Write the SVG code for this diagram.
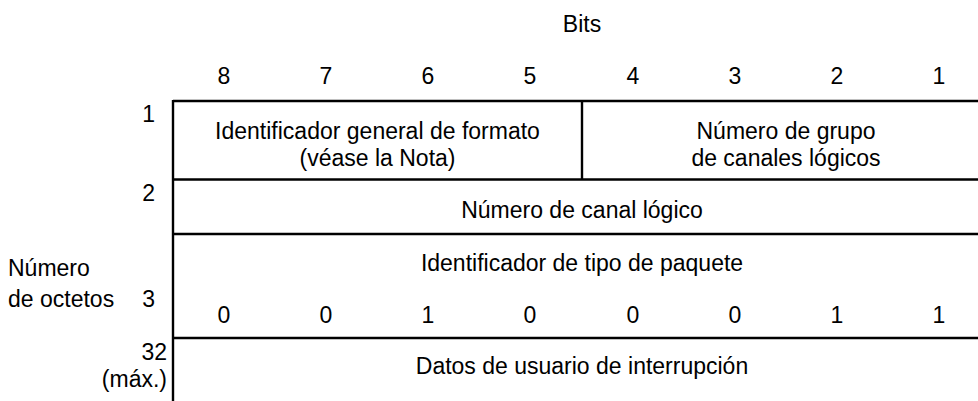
<svg xmlns="http://www.w3.org/2000/svg" width="978" height="401" viewBox="0 0 978 401">
<style>
text{font-family:"Liberation Sans",Arial,sans-serif;font-size:23px;fill:#000}
.c{text-anchor:middle}
.r{text-anchor:end}
line{stroke:#000;stroke-width:2.4}
</style>
<rect width="978" height="401" fill="#fff"/>
<g id="header">
<text class="c" x="582" y="32">Bits</text>
<text class="c" x="224" y="84">8</text>
<text class="c" x="326" y="84">7</text>
<text class="c" x="428" y="84">6</text>
<text class="c" x="530" y="84">5</text>
<text class="c" x="633" y="84">4</text>
<text class="c" x="735" y="84">3</text>
<text class="c" x="837" y="84">2</text>
<text class="c" x="939" y="84">1</text>
</g>
<g id="row-labels">
<text class="r" x="155" y="122">1</text>
<text class="r" x="155" y="201">2</text>
<text x="8" y="276">Número</text>
<text x="8" y="307">de octetos</text>
<text class="r" x="155" y="307">3</text>
<text class="r" x="167" y="360">32</text>
<text class="r" x="167" y="387">(máx.)</text>
</g>
<g id="grid">
<line x1="173" y1="101" x2="978" y2="101"/>
<line x1="173" y1="179.5" x2="978" y2="179.5"/>
<line x1="173" y1="234" x2="978" y2="234"/>
<line x1="173" y1="338" x2="978" y2="338"/>
<line x1="173" y1="100" x2="173" y2="401"/>
<line x1="582" y1="101" x2="582" y2="179.5"/>
</g>
<g id="cell-format-id">
<text class="c" x="377.5" y="139">Identificador general de formato</text>
<text class="c" x="377.5" y="165.5">(véase la Nota)</text>
</g>
<g id="cell-group">
<text class="c" x="786" y="139">Número de grupo</text>
<text class="c" x="786" y="165.5">de canales lógicos</text>
</g>
<g id="cell-channel">
<text class="c" x="582" y="218">Número de canal lógico</text>
</g>
<g id="cell-type">
<text class="c" x="582" y="271">Identificador de tipo de paquete</text>
<text class="c" x="224" y="323">0</text>
<text class="c" x="326" y="323">0</text>
<text class="c" x="428" y="323">1</text>
<text class="c" x="530" y="323">0</text>
<text class="c" x="633" y="323">0</text>
<text class="c" x="735" y="323">0</text>
<text class="c" x="837" y="323">1</text>
<text class="c" x="939" y="323">1</text>
</g>
<g id="cell-data">
<text class="c" x="582" y="374">Datos de usuario de interrupción</text>
</g>
</svg>
